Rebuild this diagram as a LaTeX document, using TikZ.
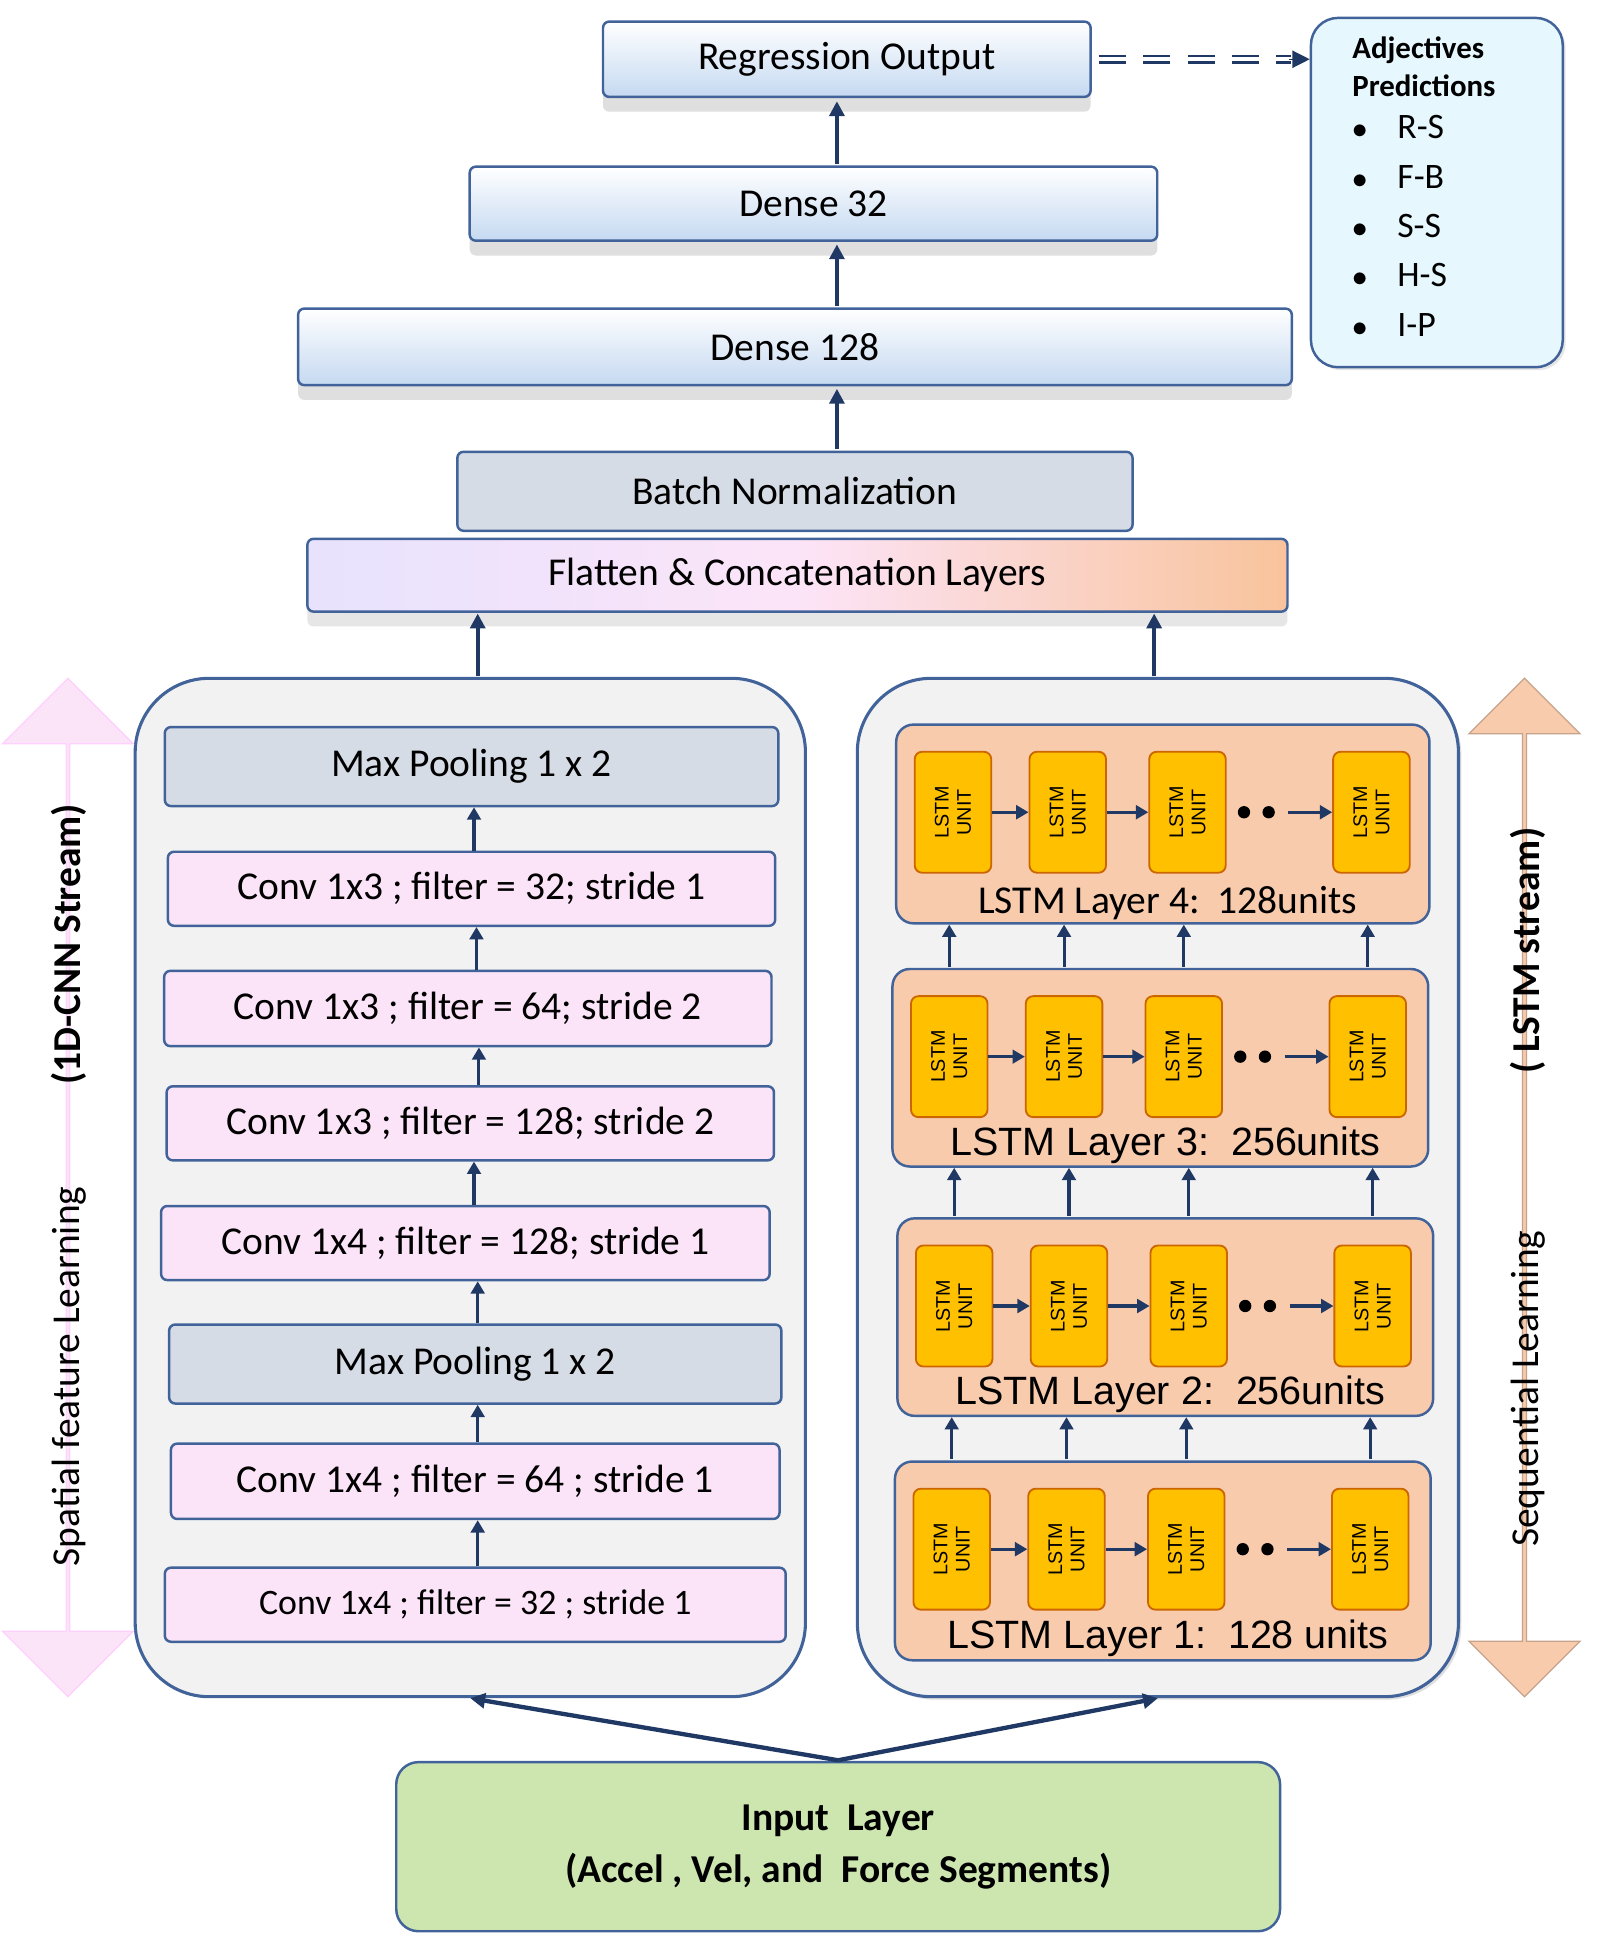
\documentclass[tikz,border=0pt]{standalone}
\usepackage{fontspec}
\setmainfont{Carlito}
\newfontfamily\arialf{Liberation Sans}
\usetikzlibrary{arrows.meta,shapes.arrows,shadows,calc}
\definecolor{bd}{HTML}{41639A}
\definecolor{nv}{HTML}{1F3864}
\definecolor{lb}{HTML}{C5D9F1}
\definecolor{gr}{HTML}{D6DCE5}
\definecolor{pk}{HTML}{FCE4F8}
\definecolor{pe}{HTML}{F8CBAD}
\definecolor{yl}{HTML}{FFC000}
\definecolor{gn}{HTML}{CDE6B0}
\begin{document}
\begin{tikzpicture}[x=1pt,y=-1pt,
 box/.style={draw=bd,line width=2pt,rounded corners=5pt,font=\fontsize{32}{38}\selectfont,inner sep=0},
 blu/.style={box,top color=white,bottom color=lb,drop shadow={shadow xshift=0pt,shadow yshift=-12pt,opacity=.25}},
 grb/.style={box,fill=gr},
 pkb/.style={box,fill=pk},
 ar/.style={-{Triangle[length=12pt,width=12pt]},line width=3.5pt,nv},
 ua/.style={-{Triangle[length=10pt,width=11pt]},line width=2.5pt,nv},
 lay/.style={draw=bd,line width=2pt,rounded corners=14pt,fill=pe},
 unit/.style={draw=orange!80!black,line width=1.5pt,rounded corners=6pt,fill=yl,minimum width=62pt,minimum height=98pt,inner sep=0},
 ut/.style={font=\arialf\fontsize{16}{18}\selectfont,rotate=90,align=center}]
\useasboundingbox (0,0) rectangle (1296,1570);
% top stack
\node[blu,minimum width=395pt,minimum height=61pt] (reg) at (686,48) {Regression Output};
\node[blu,minimum width=557pt,minimum height=60pt] (d32) at (659,165) {Dense 32};
\node[blu,minimum width=805pt,minimum height=62pt] (d128) at (644,281) {Dense 128};
\node[grb,minimum width=547pt,minimum height=64pt] (bn) at (644,398) {Batch Normalization};
\node[box,left color=pk!70!blue!30,right color=pe!90!orange,middle color=pk,minimum width=794pt,minimum height=59pt,drop shadow={shadow xshift=0pt,shadow yshift=-12pt,opacity=.2}] (fl) at (646,466) {Flatten \& Concatenation Layers};
\draw[ar] (678,133) -- (678,82);
\draw[ar] (678,248) -- (678,198);
\draw[ar] (678,364) -- (678,315);
% adjectives
\node[draw=bd,line width=2pt,rounded corners=22pt,fill=cyan!10,minimum width=204pt,minimum height=283pt,drop shadow={opacity=.2}] (adj) at (1164,156) {};
\node[anchor=north west,font=\bfseries\fontsize{25}{31}\selectfont,align=left] (adjt) at (1092,26) {Adjectives\\Predictions};
\node[anchor=north west,font=\fontsize{29}{40}\selectfont,align=left] (adjl) at (1092,90) {$\bullet$\hspace{24pt}R-S\\$\bullet$\hspace{24pt}F-B\\$\bullet$\hspace{24pt}S-S\\$\bullet$\hspace{24pt}H-S\\$\bullet$\hspace{24pt}I-P};
\coordinate (dq) at (890,48);
\draw[nv,line width=2pt,double,double distance=3pt,dash pattern=on 22pt off 14pt] (dq) -- (1046,48);
\draw[nv,-{Triangle[length=14pt,width=14pt]},line width=1pt] (1044,48) -- (adj.west |- dq);
% containers
\node[draw=bd,line width=2.5pt,rounded corners=60pt,fill=gray!10,minimum width=543pt,minimum height=825pt] (cl) at (381,962) {};
\node[draw=bd,line width=2.5pt,rounded corners=60pt,fill=gray!10,minimum width=487pt,minimum height=825pt,drop shadow={opacity=.25}] (cr) at (938,962) {};
\draw[ar] (387,548) -- (387,497);
\draw[ar] (935,548) -- (935,497);
% CNN
\node[grb,minimum width=497pt,minimum height=64pt] (c1) at (382,621) {Max Pooling 1 x 2};
\node[pkb,minimum width=492pt,minimum height=60pt] (c2) at (382,720) {Conv 1x3 ; filter = 32; stride 1};
\node[pkb,minimum width=492pt,minimum height=61pt] (c3) at (379,817) {Conv 1x3 ; filter = 64; stride 2};
\node[pkb,minimum width=492pt,minimum height=60pt] (c4) at (381,910) {Conv 1x3 ; filter = 128; stride 2};
\node[pkb,minimum width=493pt,minimum height=60pt] (c5) at (377,1007) {Conv 1x4 ; filter = 128; stride 1};
\node[grb,minimum width=496pt,minimum height=64pt] (c6) at (385,1105) {Max Pooling 1 x 2};
\node[pkb,minimum width=493pt,minimum height=61pt] (c7) at (385,1200) {Conv 1x4 ; filter = 64 ; stride 1};
\node[pkb,minimum width=503pt,minimum height=60pt,font=\fontsize{29}{34}\selectfont] (c8) at (385,1300) {Conv 1x4 ; filter = 32 ; stride 1};
\foreach \a/\b/\x in {c2/c1/384,c3/c2/386,c4/c3/388,c5/c4/384,c6/c5/387,c7/c6/387,c8/c7/387}
  \draw[ua] (\x,0 |- \a.north) -- (\x,0 |- \b.south);
% LSTM layers
\foreach \n/\xl/\yt/\xr/\yb/\lab/\ff in {4/726/587/1158/748/{LSTM Layer 4:\ \ 128units}/\fontsize{32}{38}\selectfont,
  3/723/785/1157/945/{LSTM Layer 3:\ \ 256units}/\arialf\fontsize{32}{38}\selectfont,
  2/727/987/1161/1147/{LSTM Layer 2:\ \ 256units}/\arialf\fontsize{32}{38}\selectfont,
  1/725/1184/1159/1345/{LSTM Layer 1:\ \ 128 units}/\arialf\fontsize{32}{38}\selectfont}{
  \node[lay,minimum width=\xr-\xl,minimum height=\yb-\yt,inner sep=0] (L\n) at ({(\xl+\xr)/2},{(\yt+\yb)/2}) {};
  \node[font=\ff,anchor=south] (L\n t) at ({(\xl+\xr)/2+4},\yb+1) {\lab};
  \foreach \k/\dx in {a/46,b/139,c/236,d/385}{
    \node[unit] (U\n\k) at (\xl+\dx,\yt+71) {};
    \node[ut] at (U\n\k) {LSTM\\UNIT};
  }
  \draw[ua] (U\n a.east) -- (U\n b.west);
  \draw[ua] (U\n b.east) -- (U\n c.west);
  \fill[black] ($(U\n c.east)+(14,0)$) circle (5pt) ++(20,0) circle (5pt);
  \draw[ua] ($(U\n c.east)+(50,0)$) -- (U\n d.west);
}
\foreach \lo/\hi in {1/2,2/3,3/4}
  \foreach \k in {a,b,c,d}
    \draw[ua] (U\lo\k.north |- L\lo.north) ++(0,-1) -- (U\lo\k.north |- L\hi.south);
% side arrows
\node[double arrow,shape border rotate=90,draw=pk!60!magenta!40,fill=pk,line width=1pt,minimum width=106pt,double arrow head extend=18pt,minimum height=825pt,inner sep=0,double arrow tip angle=90] (sa) at (55,962) {};
\node[rotate=90,font=\fontsize{32}{38}\selectfont] at (56,1115) {Spatial feature Learning};
\node[rotate=90,font=\bfseries\fontsize{32}{38}\selectfont] at (56,765) {(1D-CNN Stream)};
\node[double arrow,shape border rotate=90,draw=pe!80!black,fill=pe,line width=1pt,minimum width=90pt,double arrow head extend=14pt,minimum height=825pt,inner sep=0,double arrow tip angle=90] (sb) at (1235,962) {};
\node[rotate=90,font=\fontsize{32}{38}\selectfont] at (1238,1125) {Sequential Learning};
\node[rotate=90,font=\bfseries\fontsize{32}{38}\selectfont] at (1238,770) {( LSTM stream)};
% input
\node[box,fill=gn,rounded corners=18pt,minimum width=716pt,minimum height=137pt,font=\bfseries\fontsize{32}{42}\selectfont,align=center] (in) at (679,1496) {Input\ \ Layer\\(Accel , Vel, and\ \ Force Segments)};
\coordinate (ip) at (679,1426);
\draw[ar] (ip) -- (cl.south);
\draw[ar] (ip) -- (cr.south);
\end{tikzpicture}
\end{document}
